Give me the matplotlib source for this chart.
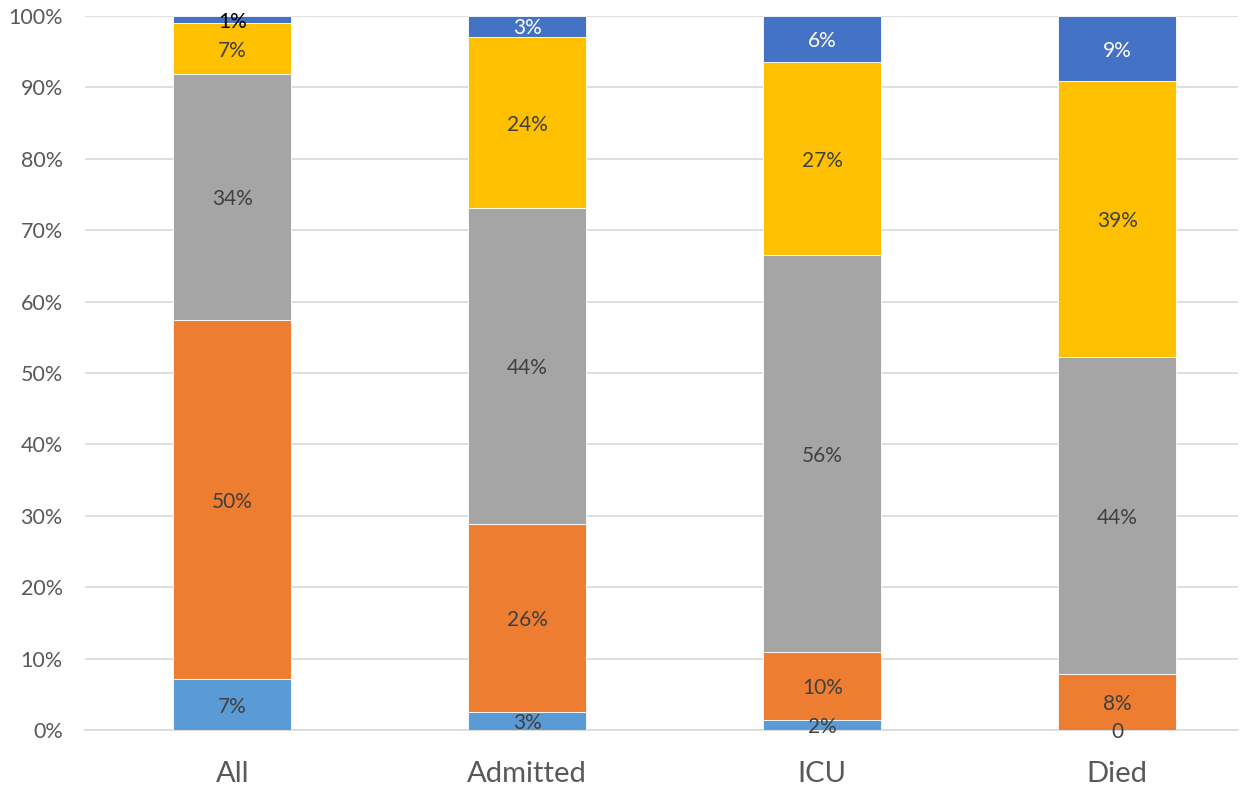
import matplotlib.pyplot as plt
import numpy as np

categories = ["All", "Admitted", "ICU", "Died"]

# share of each group per category, in percent (bottom to top)
group_1 = [7.1, 2.5, 1.4, 0.0]
group_2 = [50.3, 26.4, 9.5, 7.8]
group_3 = [34.5, 44.2, 55.6, 44.4]
group_4 = [7.1, 24.0, 27.1, 38.7]
group_5 = [1.0, 2.9, 6.4, 9.1]

labels_1 = ["7%", "3%", "2%", "0"]
labels_2 = ["50%", "26%", "10%", "8%"]
labels_3 = ["34%", "44%", "56%", "44%"]
labels_4 = ["7%", "24%", "27%", "39%"]
labels_5 = ["1%", "3%", "6%", "9%"]

colors = ["#5B9BD5", "#ED7D31", "#A5A5A5", "#FFC000", "#4472C4"]
label_colors = [
    ["#404040"] * 4,
    ["#404040"] * 4,
    ["#404040"] * 4,
    ["#404040"] * 4,
    ["#000000", "#FFFFFF", "#FFFFFF", "#FFFFFF"],
]

plt.rcParams["font.family"] = ["Lato", "DejaVu Sans"]


def main() -> None:
    fig = plt.figure(figsize=(12.49, 7.86), dpi=100)
    ax = fig.add_axes([85 / 1249, 56 / 786, (1238 - 85) / 1249, (730 - 16) / 786])

    x = np.arange(len(categories))
    series = [group_1, group_2, group_3, group_4, group_5]
    labels = [labels_1, labels_2, labels_3, labels_4, labels_5]

    bottom = np.zeros(len(categories))
    for values, color, texts, tcolors in zip(series, colors, labels, label_colors):
        values = np.array(values)
        ax.bar(x, values, bottom=bottom, width=0.4, color=color,
               edgecolor="white", linewidth=0.6, zorder=3)
        for i, (v, t) in enumerate(zip(values, texts)):
            ax.text(x[i], bottom[i] + v / 2 - 0.3, t, ha="center", va="center",
                    fontsize=15, color=tcolors[i], zorder=4)
        bottom += values

    ax.set_xlim(-0.5, 3.41)
    ax.set_ylim(0, 100)
    ax.set_yticks(np.arange(0, 101, 10))
    ax.set_yticklabels([f"{v}%" for v in range(0, 101, 10)])
    ax.set_xticks(x)
    ax.set_xticklabels(categories)

    ax.grid(axis="y", color="#D9D9D9", linewidth=1.2, zorder=0)
    for side in ["top", "right", "left"]:
        ax.spines[side].set_visible(False)
    ax.spines["bottom"].set_color("#D9D9D9")
    ax.spines["bottom"].set_linewidth(1.2)

    ax.tick_params(axis="y", length=0, labelsize=15.5, labelcolor="#595959", pad=16)
    ax.tick_params(axis="x", length=0, labelsize=21, labelcolor="#595959", pad=22)

    fig.savefig("out.png", dpi=100)


if __name__ == "__main__":
    main()
